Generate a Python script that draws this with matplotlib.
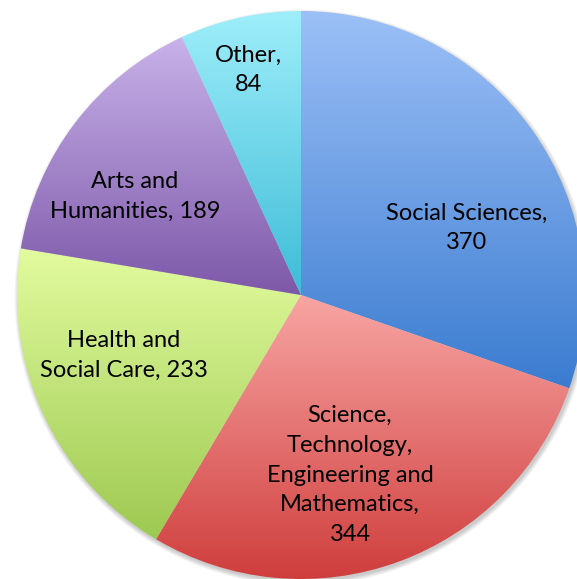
import numpy as np
import matplotlib
matplotlib.use("Agg")
import matplotlib.pyplot as plt
from matplotlib.colors import LinearSegmentedColormap
from matplotlib.patches import Circle

# data
categories = ["Social Sciences", "Science, Technology, Engineering and Mathematics",
              "Health and Social Care", "Arts and Humanities", "Other"]
values = [370, 344, 233, 189, 84]
label_text = ["Social Sciences,\n370", "Science,\nTechnology,\nEngineering and\nMathematics,\n344",
              "Health and\nSocial Care, 233", "Arts and\nHumanities, 189", "Other,\n84"]

# top / bottom colours of each slice gradient
top_colors = ["#9cc0f7", "#f8a5a3", "#e2fb9e", "#c8b2ea", "#9eeefa"]
bottom_colors = ["#3b7cd0", "#cf3e3d", "#9dc951", "#7d58a8", "#3ebcd8"]

W, H = 577, 579
fig = plt.figure(figsize=(W / 100, H / 100), dpi=100)
ax = fig.add_axes([0, 0, 1, 1])

cx, cy, r = 301, H - 295, 284

# soft shadow below / right of the pie
for k in range(6):
    ax.add_patch(Circle((cx + 1.5, cy - 2.5), r + 0.8 * k, facecolor="#000000",
                        edgecolor="none", alpha=0.035, zorder=0))

wedges, _ = ax.pie(values, startangle=90, counterclock=False,
                   radius=r, center=(cx, cy), frame=True)

grad = np.linspace(0, 1, 256).reshape(-1, 1)
for w, c0, c1 in zip(wedges, top_colors, bottom_colors):
    w.set_facecolor("none")
    w.set_edgecolor("none")
    ext = w.get_path().get_extents()
    cmap = LinearSegmentedColormap.from_list("g", [c0, c1])
    im = ax.imshow(grad, cmap=cmap, aspect="auto", origin="upper",
                   extent=(ext.x0, ext.x1, ext.y0, ext.y1), zorder=1)
    im.set_clip_path(w)

# labels (pixel positions from the top)
label_x = [467, 350, 124, 135, 248]
label_y = [228, 475, 355, 196, 70]
for t, x, y in zip(label_text, label_x, label_y):
    ax.text(x, H - y, t, ha="center", va="center", fontsize=17,
            family="Lato", linespacing=1.52, color="black", zorder=3)

ax.set_xlim(0, W)
ax.set_ylim(0, H)
ax.set_aspect("equal")
ax.axis("off")
fig.savefig("out.png", dpi=100)
